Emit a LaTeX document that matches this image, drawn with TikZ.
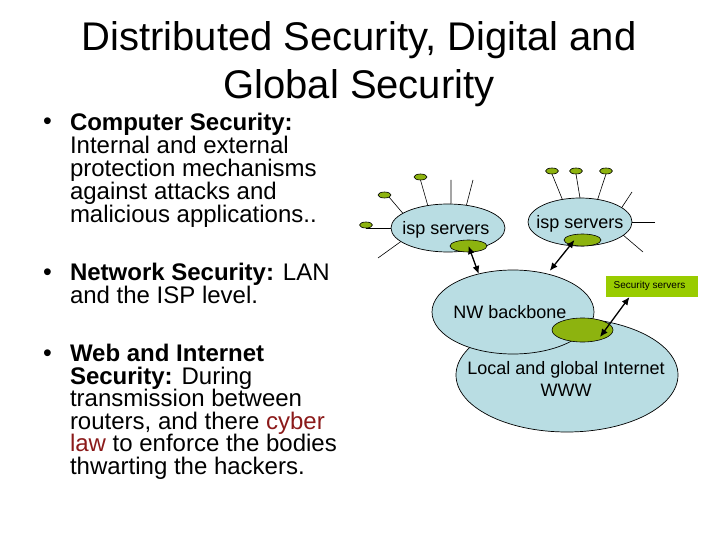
\documentclass[tikz,border=0pt]{standalone}
\usepackage{fontspec}
\setmainfont{Liberation Sans}
\definecolor{cloudblue}{HTML}{B9DDE3}
\definecolor{podgreen}{HTML}{8DB30F}
\definecolor{boxgreen}{HTML}{99CC00}
\definecolor{lawred}{HTML}{8B1A1A}
\usetikzlibrary{shapes.geometric, arrows.meta}
\begin{document}
\begin{tikzpicture}[x=1pt, y=-1pt,
every node/.style = {inner sep=0pt, outer sep=0pt},
cloud/.style = {ellipse, draw=black, line width=0.7pt, fill=cloudblue},
pod/.style = {ellipse, draw=black, line width=0.6pt, fill=podgreen},
tip/.style = {pod, minimum width=13pt, minimum height=6pt},
spoke/.style = {line width=0.6pt},
link/.style = {{Latex[length=8pt,width=7pt]}-{Latex[length=8pt,width=7pt]}, line width=1.3pt},
bodytext/.style = {anchor=north west, align=left, font=\fontsize{24}{22.5}\selectfont},
cloudtext/.style = {align=center, font=\fontsize{18}{22}\selectfont},
bul/.style = {font=\fontsize{25}{25}\selectfont}]

  \useasboundingbox (0,0) rectangle (720,540);

  \node (title) [align=center, font=\fontsize{40}{48}\selectfont] at (359,64)
    {Distributed Security, Digital and\\Global Security};

  \node (b1) [bul] at (47.5,124) {•};
  \node (b2) [bul] at (47.5,275) {•};
  \node (b3) [bul] at (47.5,356) {•};
  \node (item1) [bodytext, font=\fontsize{24}{23}\selectfont] at (70,113.5) {\textbf{Computer Security:}\\Internal and external\\protection mechanisms\\against attacks and\\malicious applications..};
  \node (item2) [bodytext] at (70,263.5) {\textbf{Network Security:} LAN\\and the ISP level.};
  \node (item3) [bodytext] at (70,344.5) {\textbf{Web and Internet}\\\textbf{Security:} During\\transmission between\\routers, and there \textcolor{lawred}{cyber}\\\textcolor{lawred}{law} to enforce the bodies\\thwarting the hackers.};

  \node (pl1) [tip] at (366,225) {};
  \node (pl2) [tip] at (384.5,195) {};
  \node (pl3) [tip] at (420.5,177) {};
  \node (pr1) [tip] at (552,171) {};
  \node (pr2) [tip] at (576,171) {};
  \node (pr3) [tip] at (606,171) {};

  \coordinate (fl1) at (451,180);
  \coordinate (fl2) at (473,180);
  \coordinate (fl3) at (378,258);
  \coordinate (fr1) at (632,192);
  \coordinate (fr2) at (655,222);
  \coordinate (fr3) at (643,252);

  \node (ispl) [cloud, minimum width=114pt, minimum height=48pt] at (448,228) {};
  \node (ispr) [cloud, minimum width=104pt, minimum height=48pt] at (580,222) {};
  \node (ispltext) [cloudtext] at (446,230) {isp servers};
  \node (isprtext) [cloudtext] at (580,224) {isp servers};

  \draw[spoke] (pl1.south) -- (ispl.180);
  \draw[spoke] (pl2.south east) -- (ispl.162);
  \draw[spoke] (pl3.south) -- (ispl.132);
  \draw[spoke] (fl1) -- (ispl.83);
  \draw[spoke] (fl2) -- (ispl.51);
  \draw[spoke] (fl3) -- (ispl.196);
  \draw[spoke] (pr1.south) -- (ispr.128);
  \draw[spoke] (pr2.south) -- (ispr.90);
  \draw[spoke] (pr3.south) -- (ispr.52);
  \draw[spoke] (fr1) -- (ispr.19);
  \draw[spoke] (fr2) -- (ispr.0);
  \draw[spoke] (fr3) -- (ispr.-17);

  \node (gl) [pod, minimum width=37pt, minimum height=12pt] at (468.5,246) {};
  \node (gr) [pod, minimum width=37pt, minimum height=12pt] at (582.5,240) {};

  \node (www) [cloud, minimum width=222pt, minimum height=114pt] at (567,375) {};
  \node (wwwtext) [cloudtext] at (566,379) {Local and global Internet\\WWW};
  \node (nw) [cloud, minimum width=162pt, minimum height=84pt] at (513,312) {};
  \node (nwtext) [cloudtext] at (510,312) {NW backbone};
  \node (gm) [pod, minimum width=61pt, minimum height=24pt] at (582.5,330) {};

  \node (sec) [fill=boxgreen, minimum width=92pt, minimum height=21pt] at (652,286.5) {};
  \node (sectext) [font=\fontsize{10}{11}\selectfont] at (649.5,285.5) {Security servers};

  \draw[link] (gl.center) -- (nw.132);
  \draw[link, shorten >=4pt] ([xshift=-8pt]gr.center) -- (nw.48);
  \draw[link] (sec.205) -- ([shift={(17.5pt,-7pt)}]gm.center);

\end{tikzpicture}
\end{document}
